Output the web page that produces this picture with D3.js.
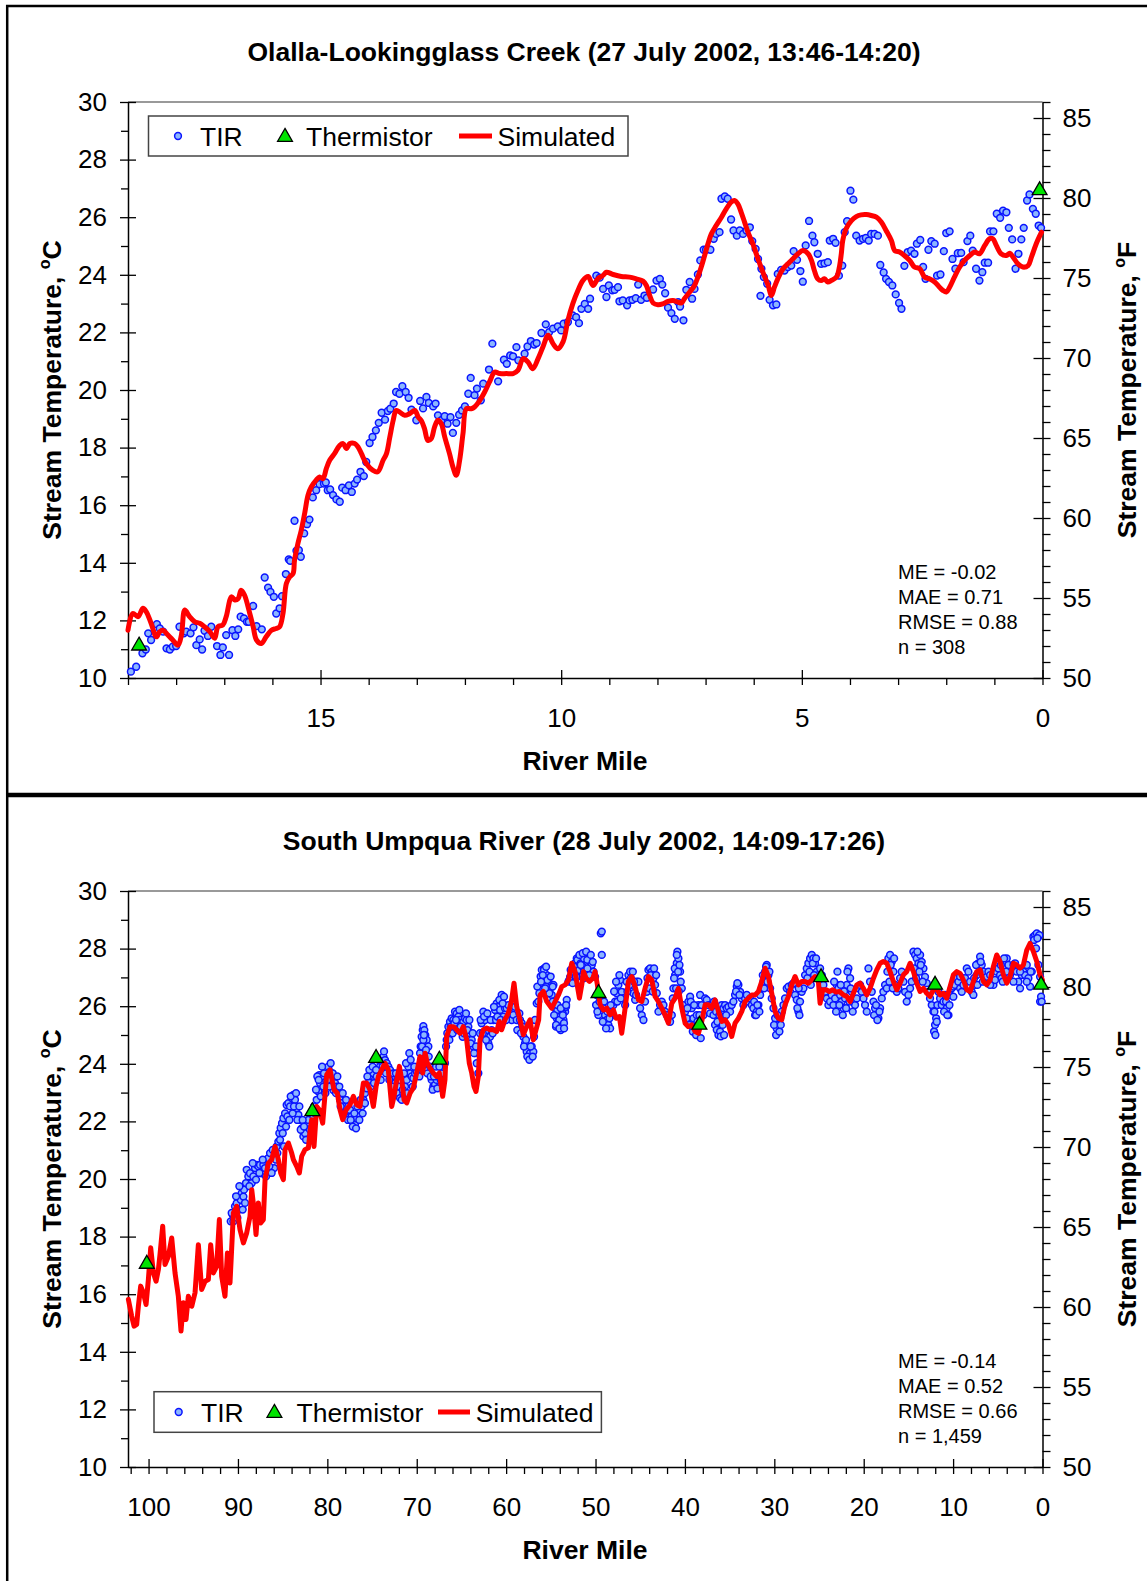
<!DOCTYPE html>
<html>
<head>
<meta charset="utf-8">
<script src="https://cdn.jsdelivr.net/npm/d3@7"></script>
<style>
  body { margin: 0; background: #fff; }
  svg { display: block; }
</style>
</head>
<body>
<svg id="fig" width="1147" height="1581"></svg>
<script>
// ---------- Olalla-Lookingglass Creek, 27 July 2002 ----------
// [river mile, stream temperature °C]
const olallaTIR = [
  [18.94,10.22],[18.83,10.39],[18.70,10.86],[18.63,10.99],[18.58,11.55],[18.52,11.32],[18.40,11.87],[18.34,11.72],
  [18.27,11.61],[18.20,11.03],[18.13,10.99],[18.07,11.09],[18.00,11.11],[17.93,11.78],[17.84,11.55],[17.79,11.61],
  [17.70,11.55],[17.64,11.76],[17.58,11.14],[17.51,11.34],[17.46,10.99],[17.41,11.64],[17.34,11.46],[17.27,11.78],
  [17.15,11.11],[17.08,10.80],[17.03,11.06],[16.96,11.49],[16.90,10.80],[16.83,11.66],[16.77,11.46],[16.71,11.69],
  [16.66,12.13],[16.59,12.07],[16.53,11.95],[16.49,11.95],[16.40,12.50],[16.33,11.80],[16.22,11.69],[16.16,13.49],
  [16.09,13.14],[16.04,12.99],[15.97,12.82],[15.92,12.24],[15.85,12.42],[15.80,12.84],[15.72,13.61],[15.66,14.12],
  [15.63,14.07],[15.54,15.46],[15.50,14.42],[15.45,14.44],[15.41,14.21],[15.34,15.02],[15.28,15.34],[15.23,15.50],
  [15.16,16.27],[15.09,16.52],[15.02,16.73],[14.93,16.75],[14.89,16.79],[14.85,16.52],[14.80,16.55],[14.74,16.35],
  [14.67,16.20],[14.60,16.12],[14.55,16.61],[14.48,16.52],[14.41,16.69],[14.35,16.46],[14.29,16.75],[14.24,16.89],
  [14.17,17.16],[14.10,17.01],[14.05,17.50],[13.98,18.16],[13.92,18.37],[13.85,18.60],[13.79,18.86],[13.73,19.21],
  [13.66,18.97],[13.60,19.27],[13.55,19.35],[13.48,19.53],[13.43,19.93],[13.36,19.87],[13.30,20.13],[13.23,19.93],
  [13.17,19.73],[13.11,19.32],[13.01,18.95],[12.93,19.62],[12.87,19.36],[12.80,19.76],[12.75,19.55],[12.66,19.43],
  [12.61,19.53],[12.56,19.12],[12.49,18.95],[12.42,19.09],[12.36,18.83],[12.30,19.06],[12.25,18.51],[12.18,18.86],
  [12.12,19.14],[12.06,19.29],[12.00,19.43],[11.93,19.87],[11.88,20.42],[11.80,19.82],[11.75,20.05],[11.67,19.64],
  [11.62,20.22],[11.50,20.71],[11.43,21.61],[11.31,20.30],[11.19,21.05],[11.13,20.91],[11.06,21.20],[11.00,21.17],
  [10.93,21.49],[10.89,21.03],[10.76,21.26],[10.70,21.51],[10.63,21.70],[10.56,21.58],[10.51,21.63],
  [10.41,21.98],[10.32,22.28],[10.25,22.01],[10.17,22.13],[10.07,22.21],[10.00,22.07],[9.95,22.30],[9.86,22.36],
  [9.76,22.59],[9.69,22.53],[9.63,22.32],[9.58,22.82],[9.51,22.99],[9.44,22.82],[9.40,23.17],[9.27,23.97],
  [9.20,23.90],[9.13,23.51],[9.06,23.23],[9.01,23.63],[8.94,23.46],[8.89,23.48],[8.82,23.57],[8.79,23.08],
  [8.72,23.11],[8.63,22.94],[8.58,23.11],[8.52,23.13],[8.45,23.19],[8.40,23.66],[8.34,23.13],[8.27,23.28],
  [8.22,23.20],[8.09,23.49],[8.02,23.80],[7.95,23.86],[7.90,23.66],[7.84,23.36],[7.78,22.86],[7.71,22.67],
  [7.64,22.47],[7.57,23.05],[7.53,22.90],[7.46,22.42],[7.40,23.48],[7.33,23.75],[7.28,23.17],[7.23,23.51],
  [7.16,24.01],[7.11,24.50],[7.04,24.87],[6.99,24.87],[6.90,24.87],[6.83,25.25],[6.78,25.42],[6.71,25.48],
  [6.67,26.64],[6.60,26.72],[6.54,26.64],[6.47,25.92],[6.42,25.54],[6.35,25.36],[6.29,25.54],[6.22,25.42],
  [6.15,25.54],[6.08,25.65],[6.03,25.17],[5.96,24.90],[5.91,24.55],[5.84,24.21],[5.79,23.92],[5.72,23.69],
  [5.86,23.27],[5.67,23.13],[5.60,22.94],[5.53,22.97],[5.50,24.03],[5.43,24.17],[5.36,24.15],[5.29,24.27],
  [5.22,24.32],[5.17,24.82],[5.10,24.52],[5.03,24.13],[4.98,23.76],[4.92,25.02],[4.85,25.87],[4.78,25.36],
  [4.74,25.13],[4.67,24.73],[4.60,24.38],[4.53,24.40],[4.46,24.44],[4.42,25.19],[4.35,25.25],[4.30,25.11],
  [4.23,23.97],[4.16,24.32],[4.11,25.48],[4.06,25.86],[3.99,26.92],[3.93,26.61],[3.87,25.36],[3.80,25.19],
  [3.73,25.25],[3.67,25.28],[3.61,25.19],[3.56,25.42],[3.49,25.42],[3.42,25.36],[3.37,24.34],[3.30,24.08],
  [3.25,23.86],[3.19,23.75],[3.12,23.63],[3.05,23.32],[2.98,23.02],[2.93,22.82],[2.87,24.31],[2.80,24.79],
  [2.73,24.84],[2.66,24.73],[2.61,25.08],[2.54,25.21],[2.48,24.27],[2.43,23.86],[2.37,24.87],[2.31,25.17],
  [2.24,25.08],[2.19,23.97],[2.12,24.01],[2.05,24.82],[2.00,25.45],[1.93,25.51],[1.87,24.55],[1.81,24.21],
  [1.76,24.75],[1.69,24.76],[1.64,24.44],[1.56,25.17],[1.50,25.36],[1.45,24.84],[1.38,24.21],[1.31,23.80],
  [1.25,24.09],[1.20,24.42],[1.13,24.42],[1.09,25.51],[1.02,25.51],[0.95,26.12],[0.88,25.98],[0.82,26.23],
  [0.75,26.17],[0.70,25.63],[0.63,25.23],[0.56,24.21],[0.50,24.73],[0.44,25.23],[0.39,25.63],[0.32,26.58],
  [0.27,26.79],[0.20,26.29],[0.14,26.12],[0.08,25.71],[0.03,25.63]
];
const olallaSim = [
  [19.00,11.66],[18.90,12.24],[18.79,12.13],[18.69,12.42],[18.62,12.30],[18.52,11.90],[18.41,11.43],[18.34,11.61],
  [18.27,11.66],[18.17,11.49],[18.07,11.32],[17.96,11.14],[17.89,11.49],[17.82,12.36],[17.72,12.13],[17.61,11.95],
  [17.51,11.90],[17.41,11.78],[17.30,11.61],[17.20,11.38],[17.13,11.78],[17.03,11.84],[16.96,12.13],[16.85,12.82],
  [16.78,12.71],[16.71,12.76],[16.65,13.05],[16.58,12.88],[16.47,12.24],[16.40,11.78],[16.33,11.32],[16.23,11.20],
  [16.13,11.43],[16.02,11.66],[15.92,11.72],[15.85,11.78],[15.78,12.24],[15.71,13.28],[15.64,13.51],[15.57,13.63],
  [15.54,14.09],[15.47,14.67],[15.40,15.13],[15.33,15.71],[15.26,16.35],[15.19,16.64],[15.09,16.87],[15.02,16.98],
  [14.95,16.92],[14.88,17.27],[14.81,17.56],[14.71,17.79],[14.60,18.08],[14.53,18.14],[14.46,17.97],[14.39,18.14],
  [14.29,18.14],[14.22,18.02],[14.15,17.79],[14.05,17.45],[13.91,17.21],[13.81,17.16],[13.70,17.56],[13.63,17.79],
  [13.56,18.37],[13.49,18.95],[13.43,19.29],[13.36,19.24],[13.25,19.12],[13.15,19.18],[13.04,19.29],[12.97,19.06],
  [12.91,18.95],[12.84,18.66],[12.77,18.25],[12.70,18.31],[12.63,18.72],[12.56,18.95],[12.49,18.83],[12.42,18.37],
  [12.32,17.79],[12.25,17.33],[12.18,17.04],[12.11,17.56],[12.04,18.49],[11.97,19.35],[11.87,19.35],[11.80,19.41],
  [11.69,19.64],[11.59,19.93],[11.49,20.28],[11.38,20.62],[11.28,20.57],[11.14,20.57],[11.00,20.57],[10.90,20.68],
  [10.79,21.09],[10.69,20.97],[10.59,20.74],[10.48,21.09],[10.38,21.49],[10.27,21.90],[10.17,21.61],[10.07,21.43],
  [9.96,21.68],[9.86,22.42],[9.76,22.99],[9.65,23.46],[9.55,23.80],[9.44,23.94],[9.34,23.63],[9.24,23.86],
  [9.13,23.98],[9.06,24.09],[8.92,24.01],[8.75,23.94],[8.58,23.92],[8.44,23.86],[8.30,23.78],[8.23,23.63],
  [8.16,23.28],[8.09,23.02],[7.99,22.96],[7.89,22.99],[7.78,23.08],[7.68,23.11],[7.57,23.05],[7.50,23.02],
  [7.44,23.17],[7.33,23.40],[7.23,23.63],[7.16,23.92],[7.09,24.27],[7.02,24.67],[6.95,25.08],[6.88,25.42],
  [6.78,25.71],[6.67,26.00],[6.57,26.29],[6.47,26.52],[6.40,26.58],[6.33,26.46],[6.26,26.17],[6.19,25.83],
  [6.12,25.48],[6.02,25.08],[5.91,24.55],[5.81,24.09],[5.70,23.63],[5.63,23.28],[5.57,23.57],[5.50,23.86],
  [5.39,24.21],[5.29,24.38],[5.19,24.55],[5.08,24.73],[4.98,24.84],[4.87,24.73],[4.80,24.50],[4.74,24.15],
  [4.67,23.86],[4.60,23.80],[4.53,23.86],[4.46,23.75],[4.39,23.80],[4.28,23.92],[4.22,24.27],[4.18,24.73],
  [4.15,25.19],[4.08,25.60],[3.97,25.88],[3.87,26.02],[3.77,26.08],[3.66,26.09],[3.56,26.06],[3.45,26.00],
  [3.35,25.83],[3.25,25.54],[3.14,25.19],[3.07,24.84],[2.97,24.79],[2.87,24.67],[2.76,24.50],[2.66,24.27],
  [2.55,24.21],[2.45,23.92],[2.35,23.86],[2.24,23.75],[2.14,23.57],[2.07,23.46],[2.00,23.40],[1.93,23.57],
  [1.83,23.92],[1.72,24.27],[1.62,24.50],[1.51,24.67],[1.41,24.79],[1.31,24.73],[1.20,25.02],[1.10,25.25],
  [1.03,25.25],[0.96,25.02],[0.86,24.73],[0.75,24.67],[0.68,24.75],[0.61,24.61],[0.51,24.38],[0.41,24.27],
  [0.30,24.32],[0.23,24.61],[0.13,25.08],[0.02,25.48]
];
const olallaTherm = [[18.77,11.12],[0.06,26.93]];
const olallaStats = ["ME = -0.02", "MAE = 0.71", "RMSE = 0.88", "n = 308"];

// ---------- South Umpqua River, 28 July 2002 ----------
const umpquaTIR = [
  [90.81,18.53],[90.59,18.76],[90.33,19.05],[90.14,19.16],[89.95,18.93],[89.69,19.28],[89.58,19.51],[89.39,19.39],
  [89.32,19.63],[89.10,19.86],[89.02,20.32],[88.84,20.09],[88.65,20.20],[88.46,19.86],[88.28,20.09],[88.09,20.38],
  [87.90,20.49],[87.72,20.44],[87.53,20.49],[87.34,20.20],[87.16,20.49],[86.97,20.38],[86.78,20.67],[86.60,20.72],
  [86.41,20.90],[86.11,21.01],[85.96,20.38],[85.67,21.13],[85.48,21.30],[85.37,21.59],[85.22,21.77],[85.07,21.94],
  [84.92,22.11],[84.73,22.28],[84.55,22.57],[84.36,22.63],[84.17,22.52],[83.99,22.81],[83.80,22.92],[83.62,22.75],
  [83.43,22.46],[83.24,22.23],[83.06,22.05],[82.87,21.76],[82.68,21.48],[82.50,21.59],[82.31,21.94],[82.12,22.05],
  [81.94,21.71],[81.75,21.42],[81.56,22.17],[81.38,22.28],[81.19,22.75],[81.01,23.04],[80.82,23.33],[80.89,23.61],
  [80.63,23.56],[80.45,23.21],[80.07,23.79],[79.89,23.90],[79.70,23.73],[79.51,23.44],[79.33,23.09],[79.14,23.33],
  [78.95,23.21],[78.77,22.98],[78.58,22.75],[78.40,22.63],[78.21,22.52],[78.02,22.28],[77.84,22.17],[77.65,22.52],
  [77.46,22.40],[77.28,22.17],[77.09,21.99],[76.90,21.88],[76.72,22.11],[76.53,22.28],[76.34,22.40],[76.16,22.52],
  [75.97,22.75],[75.79,22.98],[75.60,23.15],[75.41,23.33],[75.23,23.44],[75.04,23.56],[74.85,23.67],[74.67,23.44],
  [74.48,23.56],[74.11,23.90],[73.92,24.08],[73.73,24.25],[73.55,24.13],[73.36,24.02],[73.18,23.90],[72.99,23.79],
  [72.80,23.56],[72.62,23.67],[72.43,23.33],[72.24,23.21],[72.06,22.98],[71.87,22.81],[71.68,22.75],[71.50,22.98],
  [71.31,23.21],[71.12,23.44],[70.94,23.90],[70.83,24.37],[70.75,23.67],[70.57,23.56],[70.38,23.50],[70.19,23.67],
  [70.01,23.73],[69.82,23.90],[69.63,24.37],[69.56,24.60],[69.45,24.94],[69.33,25.17],[69.26,25.31],[69.15,25.17],
  [69.04,24.99],[68.89,24.83],[68.70,24.60],[68.51,23.90],[68.33,23.44],[68.14,23.21],[67.96,23.27],[67.77,23.44],
  [67.58,23.56],[67.40,23.21],[67.21,23.67],[67.02,23.90],[66.84,24.02],[66.65,24.83],[66.46,25.29],[66.28,25.46],
  [66.09,25.58],[65.90,25.52],[65.72,25.81],[65.53,25.75],[65.35,25.64],[65.16,25.52],[64.97,25.29],[64.79,25.46],
  [64.60,25.58],[64.41,25.52],[64.23,25.29],[64.04,25.06],[63.85,24.83],[63.67,24.60],[63.48,24.37],[63.29,24.02],
  [63.11,23.67],[62.92,25.06],[62.74,25.41],[62.55,25.81],[62.36,25.52],[62.18,25.17],[61.99,24.71],[61.80,24.94],
  [61.62,25.17],[61.43,25.52],[61.24,25.87],[61.06,26.10],[60.87,25.98],[60.68,25.87],[60.50,26.39],[60.31,25.64],
  [60.13,25.93],[59.94,25.93],[59.75,26.04],[59.57,25.75],[59.38,25.52],[59.19,25.70],[59.01,25.98],[58.82,25.52],
  [58.63,25.17],[58.45,25.52],[58.26,25.41],[58.07,24.94],[57.89,24.71],[57.70,24.42],[57.51,24.25],[57.33,24.37],
  [57.14,24.60],[56.96,24.42],[56.77,25.52],[56.58,26.10],[56.40,26.16],
  [56.01,27.26],[55.75,27.31],[55.45,27.08],[55.27,26.85],[55.08,26.62],[54.90,26.39],[54.71,26.74],[54.52,25.93],
  [54.34,25.58],[54.15,25.46],[53.96,25.64],[53.78,25.35],[53.59,25.52],[53.40,25.81],[53.22,26.22],[53.03,26.85],
  [52.84,27.02],[52.66,27.20],[52.47,27.31],[52.29,27.49],[52.10,27.66],[51.91,27.37],[51.73,27.14],[51.54,27.02],
  [51.35,26.97],[51.17,27.43],[50.98,27.66],[50.79,27.78],[50.61,27.54],[50.42,27.43],[50.23,27.20],[50.05,27.02],
  [49.86,26.39],[49.68,25.69],[49.49,26.04],[49.41,28.53],[49.30,28.59],[49.30,27.78],[49.12,25.93],[48.93,25.69],
  [48.74,25.52],[48.56,25.35],[48.37,25.23],[48.18,25.69],[48.00,26.04],[47.81,26.16],[47.62,26.45],[47.44,26.74],
  [47.25,26.91],[47.07,26.50],[46.88,26.27],[46.69,26.04],[46.51,26.85],[46.32,27.08],[46.13,27.20],[45.95,26.74],
  [45.76,26.45],[45.57,26.22],[45.39,26.85],[45.20,26.85],[45.01,25.93],[44.83,25.69],[44.64,25.52],[44.46,26.16],
  [44.27,26.50],[44.08,27.26],[43.90,27.31],[43.71,27.20],[43.52,26.97],[43.34,26.74],[43.15,26.45],[42.96,25.81],
  [42.78,26.04],[42.59,26.16],[42.40,26.04],[42.22,25.81],[42.03,25.69],[41.85,25.58],[41.66,25.46],[41.47,25.69],
  [41.29,26.62],[41.10,27.08],[40.91,27.49],[40.84,27.89],[40.73,27.66],[40.54,27.20],[40.35,26.62],[40.17,26.04],
  [39.98,25.81],[39.79,25.58],[39.61,26.16],[39.42,26.33],[39.24,25.93],[39.05,25.58],[38.86,25.35],[38.68,25.69],
  [38.49,26.04],[38.30,26.39],[38.12,26.04],[37.93,25.69],[37.74,26.27],[37.56,26.22],[37.37,26.04],[37.18,25.75],
  [37.00,26.04],[36.81,25.69],[36.63,25.35],[36.44,25.18],[36.25,25.00],[36.07,25.12],[35.88,26.04],[35.69,25.93],
  [35.51,26.04],[35.32,25.93],[35.13,25.98],[34.95,25.81],[34.76,26.04],[34.57,26.16],[34.39,26.39],[34.20,26.68],
  [34.02,26.74],[33.83,26.50],[33.64,26.27],[33.46,26.04],[33.27,26.27],[33.08,26.39],[32.90,26.16],[32.71,26.27],
  [32.52,26.04],[32.34,25.93],[32.15,25.69],[31.96,25.81],[31.78,26.04],[31.59,26.39],[31.41,26.62],[31.22,26.85],
  [31.03,27.20],[30.85,27.43],[30.66,27.08],[30.47,26.62],[30.29,26.27],[30.10,25.93],[29.91,25.58],[29.73,25.23],
  [29.54,25.35],[29.35,25.58],[29.17,25.81],[28.98,26.04],[28.80,26.27],[28.61,26.62],[28.42,26.68],[28.24,26.50],
  [28.05,26.74],[27.86,26.80],[27.68,26.39],[27.49,26.22],[27.30,25.81],[27.12,26.16],[26.93,26.50],[26.74,26.62],
  [26.56,27.08],[26.37,27.31],[26.19,27.49],[26.00,27.66],[25.81,27.78],[25.63,27.66],[25.44,27.49],[25.25,27.20],
  [25.07,27.08],[24.88,27.31],[24.69,27.08],[24.51,26.74],[24.32,26.50],[24.13,26.27],[23.95,26.04],[23.76,26.16],
  [23.58,26.39],[23.39,26.04],[23.20,26.27],[23.02,26.74],[22.83,26.62],[22.64,26.39],[22.46,26.16],[22.27,25.93],
  [22.08,26.27],[21.90,26.74],[21.71,27.31],[21.52,26.97],[21.34,26.50],[21.15,26.16],[20.97,26.04],[20.78,26.27],
  [20.59,26.62],[20.41,26.74],[20.22,26.50],[20.03,26.27],[19.85,26.04],[19.66,25.81],[19.47,27.31],[19.29,26.85],
  [19.10,26.50],[18.91,26.16],[18.73,25.93],[18.54,25.69],[18.36,25.58],[18.17,25.93],[17.98,26.27],[17.80,26.50],
  [17.61,26.74],[17.42,26.62],[17.24,27.66],[17.05,27.78],[16.86,27.54],[16.68,27.20],[16.49,26.74],[16.30,26.50],
  [16.12,26.62],[15.93,26.97],[15.75,27.20],[15.56,26.85],[15.37,26.50],[15.19,26.16],[15.00,26.39],[14.81,26.62],
  [14.63,26.85],[14.44,27.89],[14.25,27.78],[14.07,27.66],[13.88,27.49],[13.69,27.78],[13.51,27.54],[13.32,27.31],
  [13.14,27.02],[12.95,26.80],[12.76,26.50],[12.58,26.27],[12.39,26.04],[12.20,25.81],[12.13,25.12],[12.02,25.35],
  [11.90,25.58],[11.76,26.04],[11.64,26.50],[11.46,26.27],[11.27,26.04],[11.08,26.16],[10.90,26.39],[10.71,25.93],
  [10.52,25.69],[10.34,26.39],[10.15,26.62],[9.97,26.68],[9.78,26.74],[9.59,26.97],[9.41,26.85],[9.22,26.62],
  [9.03,26.50],[8.85,26.74],[8.66,26.97],[8.47,27.31],[8.29,27.20],[8.10,26.85],[7.92,26.50],[7.73,26.39],
  [7.54,26.74],[7.36,27.08],[7.17,27.49],[6.98,27.72],[6.80,27.43],[6.61,27.20],[6.42,26.97],[6.24,27.02],
  [6.05,27.20],[5.86,27.08],[5.68,26.85],[5.49,26.74],[5.31,26.91],[5.12,27.20],[4.93,27.31],[4.75,27.08],
  [4.56,26.97],[4.37,27.31],[4.19,27.54],[4.00,27.66],[3.81,27.43],[3.63,27.08],[3.44,27.20],[3.25,27.43],
  [3.07,27.49],[2.88,27.20],[2.70,26.85],[2.51,26.62],[2.32,27.08],[2.14,27.20],[1.95,27.08],[1.76,27.43],
  [1.58,26.97],[1.39,26.68],[1.20,27.20],[1.02,28.41],[0.83,28.47],[0.64,28.53],[0.46,28.41],[0.35,28.47],
  [0.27,26.16],[0.16,26.33],[0.09,26.16],[0.72,28.01],[0.46,27.43],[0.27,27.02],
  // denser parts of the survey band
  [90.70,18.82],[90.51,18.53],[90.21,19.40],[90.07,18.65],[89.84,19.75],[89.47,18.94],[89.21,19.17],
  [88.72,19.75],[88.35,20.55],[87.98,19.98],[87.60,20.21],[87.23,20.67],[86.86,20.09],[86.49,20.44],[86.23,20.21],
  [85.85,20.90],[85.74,20.67],[85.59,20.90],[85.29,21.36],[84.99,21.59],[84.85,21.13],[84.62,21.82],[84.47,22.17],
  [84.25,22.05],[84.10,22.87],[83.88,22.28],[83.73,22.52],[83.50,22.98],[83.35,22.05],[83.13,22.52],[82.98,21.71],
  [82.76,22.05],[82.61,21.82],[82.38,21.36],[81.49,22.52],[81.27,23.10],[81.12,23.56],[80.97,23.44],[80.74,22.87],
  [80.59,23.90],[80.37,23.67],[80.22,22.98],[80.00,23.44],[79.77,23.21],[79.63,24.02],[79.40,23.67],[79.03,22.98],
  [78.88,23.56],[78.66,23.21],[78.51,22.52],[78.28,22.98],[78.13,22.28],[77.91,22.75],[77.69,22.05],[77.39,22.05],
  [77.16,21.82],[76.98,22.28],[76.79,21.76],[76.64,22.52],[76.42,22.05],[76.27,22.75],[76.05,22.28],[75.79,22.63],
  [75.52,23.56],[75.30,23.79],[75.15,23.21],[74.93,23.90],[74.78,23.33],[74.55,23.79],[74.29,24.14],[74.03,23.44],
  [73.81,23.90],[73.44,23.67],[73.66,24.43],[73.06,23.44],[72.69,23.21],[72.32,23.67],[71.94,23.21],[71.57,23.10],
  [71.42,23.67],[71.20,24.02],[71.05,22.98],[70.68,24.14],[70.45,23.21],[70.27,23.90],[69.71,23.56],[69.52,24.14],
  [69.41,24.60],[69.26,24.83],[69.19,25.00],[69.11,24.14],[68.96,24.48],[68.81,23.67],[68.66,24.25],[69.41,23.90],
  [68.44,23.56],[68.22,23.10],[68.07,23.56],[67.84,23.90],[67.69,23.15],[67.47,23.90],[67.32,23.44],
  [66.72,24.60],[66.58,25.06],[66.35,24.83],[66.20,25.29],[65.98,25.06],[65.79,25.41],[65.61,25.52],[65.46,25.17],
  [65.23,25.87],[65.08,25.29],[64.86,24.94],[64.71,25.06],[64.49,25.75],[64.34,25.17],[64.11,25.52],[63.97,24.71],
  [63.74,25.06],[63.59,24.37],[63.37,24.60],[62.85,25.52],[62.62,25.06],[62.47,25.64],[62.25,24.83],[62.10,25.75],
  [61.88,24.60],[61.73,25.52],[61.50,25.06],[61.36,25.98],[61.13,25.52],[60.98,25.64],[60.76,26.22],[60.61,25.52],
  [60.39,26.10],[60.24,26.33],[60.01,25.52],[58.75,25.17],[58.52,25.75],[58.34,25.06],[58.15,25.29],[58.00,24.60],
  [57.78,24.83],[57.63,24.25],[57.40,24.14],[57.25,24.60],[57.03,24.25],[56.88,24.94],[56.51,26.68],[56.28,26.45],
  [56.14,27.03],[55.91,26.80],[55.76,27.26],[55.54,26.68],[55.39,26.91],[55.17,26.45],[55.02,27.03],[54.79,26.68],
  [54.64,25.98],[54.42,25.29],[54.27,25.87],[54.05,25.52],[53.90,25.17],[53.67,25.75],[53.53,25.41],[53.30,25.98],
  [52.93,26.91],[52.78,27.26],[52.56,26.80],[52.41,27.37],[52.18,27.03],[52.03,27.61],[51.81,27.26],[51.66,27.49],
  [51.44,27.37],[51.29,27.66],[51.06,27.26],[50.92,27.61],[50.69,27.03],
  [56.09,26.85],[55.90,27.08],[55.64,26.62],[55.53,27.37],[54.78,26.16],[54.63,25.69],[54.41,25.35],[54.26,26.04],
  [54.04,25.23],[53.89,25.93],[53.66,25.69],[53.52,25.23],[53.29,26.04],[51.80,27.78],[51.65,27.43],[51.43,27.84],
  [51.28,27.20],[51.05,27.89],[50.91,27.31],[50.68,27.08],[50.53,27.78],[50.31,27.54],[49.94,26.04],[49.79,25.81],
  [49.56,26.16],[49.19,25.46],[49.04,26.16],[48.82,25.23],[48.67,25.81],[48.44,25.58],[48.30,26.04],[47.92,26.51],
  [47.70,26.85],[47.55,26.16],[47.33,27.08],[47.18,26.27],[46.43,26.51],[46.21,26.74],[46.06,26.97],[45.83,27.20],
  [45.69,26.85],[45.46,26.39],[44.19,26.97],[43.97,26.62],[43.82,27.08],[43.60,26.51],[43.45,27.31],[43.22,27.08],
  [41.36,26.27],[41.21,26.97],[41.14,27.31],[40.99,26.62],[40.91,27.78],[40.76,27.20],[40.69,26.51],[40.61,27.43],
  [40.47,26.85],[39.72,25.93],[39.50,25.35],[39.35,26.16],[39.12,25.12],[38.97,26.04],[38.75,25.00],[38.60,25.46],
  [38.38,25.69],[38.23,24.89],[36.74,26.16],[36.51,25.81],[36.36,25.46],[36.14,25.69],[35.99,24.95],[35.77,25.35],
  [35.62,25.00],[35.39,25.69],[34.28,26.51],[34.13,26.80],[33.90,26.39],[32.26,26.16],[32.04,25.69],[31.89,26.04],
  [31.67,25.81],[31.29,27.08],[31.14,26.62],[30.92,27.37],[30.77,26.85],[30.55,27.20],[30.03,25.35],[29.80,25.00],
  [29.65,25.69],[29.43,25.12],[29.28,25.35],[27.42,25.93],[27.27,26.62],[27.19,25.69],[26.30,26.97],[26.07,27.20],
  [25.92,26.74],[25.70,27.49],[25.55,27.08],[25.33,27.66],[23.31,26.85],[23.09,25.81],[22.94,27.20],[22.72,26.04],
  [22.57,26.74],[22.34,25.69],[22.20,26.51],[21.97,25.93],[21.82,27.20],[21.60,26.16],[21.45,26.62],[21.23,25.81],
  [18.84,25.69],[18.62,26.04],[18.47,25.52],[18.24,25.81],[17.35,27.20],[17.12,26.85],[16.98,27.43],[16.75,26.62],
  [16.60,27.66],[14.37,27.31],[14.14,26.97],[13.99,27.89],[13.77,27.20],[13.62,27.43],[13.40,26.85],[12.09,25.81],
  [11.98,25.00],[11.83,25.46],[11.01,25.81],[10.79,26.16],[10.64,25.69],[10.41,26.04],[7.65,26.97],[7.43,27.43],
  [7.28,26.74],[7.06,27.20],[6.91,27.54],[6.68,26.85],[4.67,27.43],[4.45,26.85],[4.30,27.66],[4.07,27.20],
  [9.97,26.33],[9.22,27.03],[5.86,26.74],[3.25,26.85],[2.51,27.20],[1.76,26.85],[1.32,27.20],[0.94,28.30],[0.57,28.36]
];
const umpquaSim = [
  [102.26,15.82],[101.89,15.24],[101.62,14.89],[101.33,14.95],[101.14,15.58],[100.88,16.28],[100.58,16.05],[100.28,15.64],
  [100.02,16.51],[99.76,17.61],[99.46,16.74],[99.16,16.45],[98.90,16.86],[98.72,17.38],[98.42,18.36],[98.16,17.03],
  [97.78,17.32],[97.41,17.95],[97.04,16.74],[96.67,15.93],[96.37,14.72],[96.11,15.70],[95.81,15.12],[95.55,15.93],
  [95.17,15.58],[94.80,16.05],[94.43,17.72],[94.06,16.16],[93.68,16.45],[93.31,16.51],[93.05,17.72],[92.75,16.74],
  [92.38,16.97],[92.08,18.59],[91.82,16.62],[91.45,15.93],[91.18,17.43],[90.89,16.39],[90.51,18.82],[90.14,19.05],
  [89.77,18.24],[89.39,17.78],[89.02,18.13],[88.65,18.71],[88.46,19.63],[88.20,18.94],[87.98,18.07],[87.72,19.17],
  [87.46,18.47],[87.16,18.59],[86.97,19.98],[86.60,20.55],[86.23,20.67],[85.85,21.13],[85.48,20.67],[85.22,20.21],
  [84.92,19.98],[84.73,21.02],[84.36,21.25],[83.99,20.90],[83.80,20.67],[83.43,20.44],[83.13,20.21],[82.87,20.79],
  [82.50,21.02],[82.12,21.08],[81.94,21.65],[81.75,22.06],[81.49,21.13],[81.19,22.52],[80.89,22.40],[80.52,21.94],
  [80.37,22.52],[80.07,23.62],[79.70,23.79],[79.25,23.10],[78.88,22.98],[78.58,22.40],[78.28,22.06],[77.91,22.40],
  [77.46,22.58],[77.09,22.87],[76.72,22.58],[76.35,22.52],[75.97,23.33],[75.60,23.33],[75.23,23.10],[74.85,22.52],
  [74.55,23.21],[74.29,23.56],[73.92,23.79],[73.55,24.02],[73.18,23.79],[72.80,22.52],[72.54,22.87],[72.24,23.45],
  [71.94,23.91],[71.68,23.45],[71.42,22.75],[71.12,22.64],[70.75,22.98],[70.38,23.16],[70.01,23.68],[69.63,24.25],
  [69.33,23.68],[69.07,24.37],[68.81,24.02],[68.51,23.85],[68.14,23.68],[67.77,23.56],[67.47,23.68],[67.10,22.87],
  [66.84,23.45],[66.65,24.95],[66.28,25.29],[65.90,25.29],[65.53,25.18],[65.16,25.06],[64.79,25.29],[64.41,24.83],
  [64.12,24.02],[63.85,23.68],[63.59,23.21],[63.37,23.04],[63.11,23.56],[62.92,24.83],[62.55,25.18],[62.18,25.24],
  [61.80,25.18],[61.43,25.18],[61.06,25.12],[60.76,25.47],[60.50,25.18],[60.13,25.53],[59.75,25.76],[59.38,26.22],
  [59.12,26.80],[58.82,25.99],[58.45,25.53],[58.08,25.01],[57.70,25.29],[57.33,25.53],[56.96,24.83],[56.66,25.18],
  [56.36,25.53],[56.20,26.39],[55.83,26.51],[55.45,26.16],[54.90,25.93],[54.52,26.16],[54.15,26.39],[53.78,26.68],
  [53.40,26.74],[53.03,26.91],[52.66,27.49],[52.29,27.20],[52.02,26.68],[51.80,26.28],[51.54,26.74],[51.35,27.20],
  [51.05,26.97],[50.68,26.86],[50.31,26.97],[50.05,27.20],[49.79,26.74],[49.49,26.05],[49.12,25.87],[48.74,25.93],
  [48.37,25.70],[48.00,25.87],[47.70,25.58],[47.33,25.64],[47.07,25.06],[46.69,25.93],[46.32,26.86],[45.95,27.03],
  [45.57,26.68],[45.20,26.22],[44.83,26.16],[44.46,26.62],[44.08,27.03],[43.71,26.91],[43.34,26.34],[42.96,26.16],
  [42.59,25.93],[42.22,25.70],[41.85,25.41],[41.47,26.10],[41.10,26.28],[40.73,26.62],[40.35,25.93],[39.98,25.41],
  [39.61,25.29],[39.24,25.35],[38.86,25.12],[38.49,25.06],[38.12,25.47],[37.74,26.05],[37.37,26.05],[37.00,25.93],
  [36.63,26.22],[36.25,25.82],[35.88,25.47],[35.51,25.53],[35.13,25.35],[34.76,24.95],[34.39,25.41],[34.02,25.58],
  [33.64,25.82],[33.27,26.16],[32.90,26.28],[32.52,26.39],[32.15,26.39],[31.78,26.51],[31.41,26.86],[31.03,27.32],
  [30.66,27.03],[30.29,26.45],[29.91,25.82],[29.54,25.58],[29.17,25.53],[28.80,26.05],[28.42,26.34],[28.05,26.74],
  [27.68,27.03],[27.30,26.74],[26.93,26.86],[26.56,26.86],[26.19,26.80],[25.81,26.91],[25.44,27.03],[25.07,26.86],
  [24.88,26.10],[24.58,26.57],[24.21,26.57],[23.84,26.51],[23.46,26.57],[23.09,26.49],[22.72,26.51],[22.27,26.39],
  [21.90,26.34],[21.52,26.16],[21.15,26.45],[20.78,26.74],[20.41,26.80],[20.03,26.62],[19.66,26.39],[19.29,26.62],
  [18.91,26.97],[18.54,27.26],[18.17,27.49],[17.80,27.55],[17.42,27.49],[17.05,27.20],[16.68,26.86],[16.30,26.57],
  [15.93,26.80],[15.56,27.09],[15.19,27.20],[14.81,27.49],[14.44,27.20],[14.07,26.80],[13.69,26.51],[13.32,26.62],
  [12.95,26.45],[12.58,26.34],[12.20,26.57],[11.83,26.62],[11.46,26.39],[11.08,26.45],[10.71,26.28],[10.34,26.68],
  [9.97,27.09],[9.59,27.20],[9.22,27.14],[8.85,26.91],[8.47,26.57],[8.10,26.51],[7.73,26.86],[7.36,27.20],
  [6.98,27.26],[6.61,26.86],[6.24,26.74],[5.86,26.91],[5.49,27.38],[5.12,27.78],[4.75,27.55],[4.37,27.09],
  [4.00,26.80],[3.63,27.03],[3.25,27.49],[2.88,27.43],[2.51,27.32],[2.14,27.43],[1.76,27.95],[1.39,28.18],
  [1.02,27.90],[0.64,27.55],[0.27,27.09],[0.01,26.91]
];
const umpquaTherm = [[100.2,17.05],[81.68,22.35],[74.55,24.20],[67.47,24.14],[49.67,26.45],[38.38,25.35],[24.77,27.00],[12.02,26.74],[0.16,26.74]];
const umpquaStats = ["ME = -0.14", "MAE = 0.52", "RMSE = 0.66", "n = 1,459"];

// ---------- shared axis tick values ----------
const celsiusMajor = [10, 12, 14, 16, 18, 20, 22, 24, 26, 28, 30];
const celsiusMinor = [11, 13, 15, 17, 19, 21, 23, 25, 27, 29];
const fahrenheitMajor = [50, 55, 60, 65, 70, 75, 80, 85];
const fahrenheitMinor = d3.range(50, 87, 1).filter(v => v % 5 !== 0);
const olallaMileMajor = [15, 10, 5, 0];
const olallaMileMinor = d3.range(0, 20, 1).filter(v => v % 5 !== 0);
const umpquaMileMajor = [100, 90, 80, 70, 60, 50, 40, 30, 20, 10, 0];
const umpquaMileMinor = d3.range(0, 103, 2).filter(v => v % 10 !== 0);

const FONT = '"Liberation Sans", Arial, Helvetica, sans-serif';
const svg = d3.select("#fig");

// outer frame
svg.append("line").attr("x1", 6).attr("x2", 1147).attr("y1", 6).attr("y2", 6)
  .attr("stroke", "#000").attr("stroke-width", 2.5);
svg.append("line").attr("x1", 7.2).attr("x2", 7.2).attr("y1", 5).attr("y2", 1581)
  .attr("stroke", "#000").attr("stroke-width", 2.5);
svg.append("line").attr("x1", 6).attr("x2", 1147).attr("y1", 795).attr("y2", 795)
  .attr("stroke", "#000").attr("stroke-width", 4.5);

const panels = [
  {
    offsetY: 0,
    title: "Olalla-Lookingglass Creek (27 July 2002, 13:46-14:20)",
    xDomain: [19, 0], xMajor: olallaMileMajor, xMinor: olallaMileMinor,
    tir: olallaTIR, sim: olallaSim, therm: olallaTherm, stats: olallaStats,
    curve: d3.curveCatmullRom.alpha(0.5),
    legend: { x: 148.5, y: 116, w: 479.5, h: 40, dot: 178, dotText: 200, tri: 285, triText: 306, line: [459, 492], lineText: 497.5 }
  },
  {
    offsetY: 789,
    title: "South Umpqua River (28 July 2002, 14:09-17:26)",
    xDomain: [102.3, 0], xMajor: umpquaMileMajor, xMinor: umpquaMileMinor,
    tir: umpquaTIR, sim: umpquaSim, therm: umpquaTherm, stats: umpquaStats,
    curve: d3.curveLinear,
    legend: { x: 154, y: 1391.7, w: 447.4, h: 40.6, dot: 178.7, dotText: 201, tri: 274.4, triText: 296.6, line: [438, 470], lineText: 475.7 }
  }
];

const TIR_FILL = "#8cb6ff", TIR_STROKE = "#0a14ff";
const THERM_FILL = "#00e400", SIM_COLOR = "#ff0000";
const TIR_R = 3.4;
const triangle = d3.symbol(d3.symbolTriangle, 95);

function styleAxis(sel, size) {
  sel.attr("font-family", FONT).attr("font-size", size);
  sel.selectAll(".tick line").attr("stroke", "#000").attr("stroke-width", 1.3);
  sel.selectAll(".tick text").attr("fill", "#000");
  sel.select(".domain").attr("stroke", "#000").attr("stroke-width", 1.5);
}

function drawPanel(p) {
  const oy = p.offsetY;
  const left = 128, right = 1042.5, top = 102 + oy, bottom = 678 + oy;
  const x = d3.scaleLinear().domain(p.xDomain).range([left, right]);
  const y = d3.scaleLinear().domain([10, 30]).range([bottom, top]);
  const yF = d3.scaleLinear().domain([50, 86]).range([bottom, top]);
  const g = svg.append("g");

  // frame top edge
  g.append("line").attr("x1", left).attr("x2", right).attr("y1", top).attr("y2", top)
    .attr("stroke", "#777").attr("stroke-width", 1.6);

  // left axis (°C)
  g.append("g").attr("transform", `translate(${left},0)`)
    .call(d3.axisLeft(y).tickValues(celsiusMinor).tickSize(7).tickFormat(""))
    .call(s => { styleAxis(s, 26); s.select(".domain").remove(); });
  g.append("g").attr("transform", `translate(${left},0)`)
    .call(d3.axisLeft(y).tickValues(celsiusMajor).tickSize(-8).tickFormat(""))
    .call(s => { styleAxis(s, 26); s.select(".domain").remove(); });
  g.append("g").attr("transform", `translate(${left},0)`)
    .call(d3.axisLeft(y).tickValues(celsiusMajor).tickSizeInner(8).tickSizeOuter(0).tickPadding(13).tickFormat(d3.format("d")))
    .call(s => styleAxis(s, 26));

  // right axis (°F)
  g.append("g").attr("transform", `translate(${right},0)`)
    .call(d3.axisRight(yF).tickValues(fahrenheitMinor).tickSize(8).tickFormat(""))
    .call(s => { styleAxis(s, 26); s.select(".domain").remove(); });
  g.append("g").attr("transform", `translate(${right},0)`)
    .call(d3.axisRight(yF).tickValues(fahrenheitMajor).tickSize(-9).tickFormat(""))
    .call(s => { styleAxis(s, 26); s.select(".domain").remove(); });
  g.append("g").attr("transform", `translate(${right},0)`)
    .call(d3.axisRight(yF).tickValues(fahrenheitMajor).tickSizeInner(8).tickSizeOuter(0).tickPadding(12).tickFormat(d3.format("d")))
    .call(s => styleAxis(s, 26));

  // bottom axis (river mile)
  g.append("g").attr("transform", `translate(0,${bottom})`)
    .call(d3.axisBottom(x).tickValues(p.xMinor).tickSize(7).tickFormat(""))
    .call(s => { styleAxis(s, 26); s.select(".domain").remove(); });
  g.append("g").attr("transform", `translate(0,${bottom})`)
    .call(d3.axisBottom(x).tickValues(p.xMajor).tickSize(-8).tickFormat(""))
    .call(s => { styleAxis(s, 26); s.select(".domain").remove(); });
  g.append("g").attr("transform", `translate(0,${bottom})`)
    .call(d3.axisBottom(x).tickValues(p.xMajor).tickSizeInner(7).tickSizeOuter(0).tickPadding(23.5).tickFormat(d3.format("d")))
    .call(s => styleAxis(s, 26));

  // TIR observations
  g.append("g").selectAll("circle").data(p.tir).join("circle")
    .attr("cx", d => x(d[0])).attr("cy", d => y(d[1])).attr("r", TIR_R)
    .attr("fill", TIR_FILL).attr("stroke", TIR_STROKE).attr("stroke-width", 1.5);

  // simulated profile
  g.append("path").datum(p.sim)
    .attr("d", d3.line().x(d => x(d[0])).y(d => y(d[1])).curve(p.curve))
    .attr("fill", "none").attr("stroke", SIM_COLOR).attr("stroke-width", 5)
    .attr("stroke-linejoin", "round").attr("stroke-linecap", "round");

  // thermistor readings
  g.append("g").selectAll("path").data(p.therm).join("path")
    .attr("d", triangle).attr("transform", d => `translate(${x(d[0])},${y(d[1])})`)
    .attr("fill", THERM_FILL).attr("stroke", "#000").attr("stroke-width", 1.3);

  // titles
  g.append("text").attr("x", 584).attr("y", 61 + oy).attr("text-anchor", "middle")
    .attr("font-family", FONT).attr("font-size", 26.5).attr("font-weight", "bold").text(p.title);
  g.append("text").attr("x", 585).attr("y", 770 + oy).attr("text-anchor", "middle")
    .attr("font-family", FONT).attr("font-size", 26.5).attr("font-weight", "bold").text("River Mile");

  [[60.5, "C"], [1136, "F"]].forEach(([tx, unit]) => {
    const t = g.append("text").attr("transform", `translate(${tx},${390 + oy}) rotate(-90)`)
      .attr("text-anchor", "middle").attr("font-family", FONT).attr("font-size", 26.5).attr("font-weight", "bold");
    t.append("tspan").text("Stream Temperature, ");
    t.append("tspan").attr("font-size", 16).attr("dy", -11).text("o");
    t.append("tspan").attr("dy", 11).text(unit);
  });

  // error statistics
  g.append("g").selectAll("text").data(p.stats).join("text")
    .attr("x", 898).attr("y", (d, i) => 579 + oy + i * 25)
    .attr("font-family", FONT).attr("font-size", 20).text(d => d);

  // legend
  const L = p.legend, cy = L.y + L.h / 2;
  const lg = g.append("g");
  lg.append("rect").attr("x", L.x).attr("y", L.y).attr("width", L.w).attr("height", L.h)
    .attr("fill", "#fff").attr("stroke", "#444").attr("stroke-width", 1.5);
  lg.append("circle").attr("cx", L.dot).attr("cy", cy).attr("r", TIR_R)
    .attr("fill", TIR_FILL).attr("stroke", TIR_STROKE).attr("stroke-width", 1.5);
  lg.append("path").attr("d", triangle).attr("transform", `translate(${L.tri},${cy + 1})`)
    .attr("fill", THERM_FILL).attr("stroke", "#000").attr("stroke-width", 1.3);
  lg.append("line").attr("x1", L.line[0]).attr("x2", L.line[1]).attr("y1", cy).attr("y2", cy)
    .attr("stroke", SIM_COLOR).attr("stroke-width", 5);
  [[L.dotText, "TIR"], [L.triText, "Thermistor"], [L.lineText, "Simulated"]].forEach(([tx, label]) => {
    lg.append("text").attr("x", tx).attr("y", cy + 9.5).attr("font-family", FONT).attr("font-size", 26.5).text(label);
  });
}

panels.forEach(drawPanel);
</script>
</body>
</html>
